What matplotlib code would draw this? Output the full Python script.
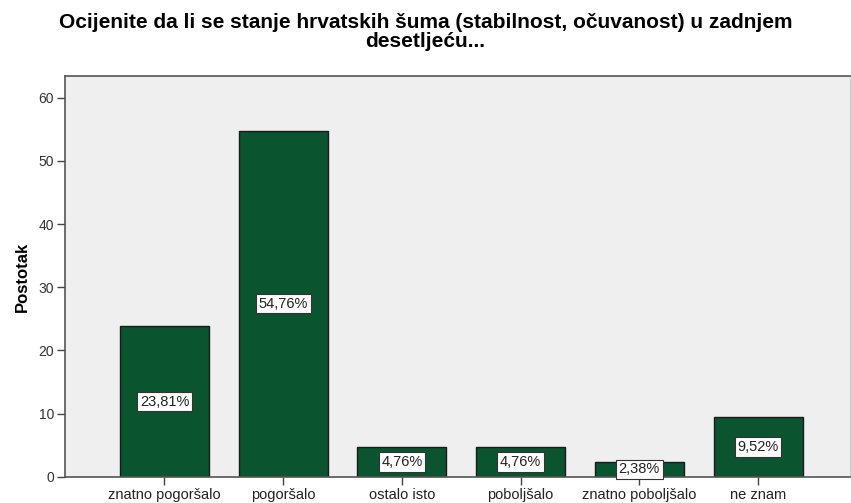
import numpy as np
import matplotlib
matplotlib.use('Agg')
import matplotlib.pyplot as plt

categories = ['znatno pogoršalo', 'pogoršalo', 'ostalo isto', 'poboljšalo', 'znatno poboljšalo', 'ne znam']
percents = [23.81, 54.76, 4.76, 4.76, 2.38, 9.52]
labels = ['23,81%', '54,76%', '4,76%', '4,76%', '2,38%', '9,52%']
yticks = [0, 10, 20, 30, 40, 50, 60]

plt.rcParams['font.family'] = ['Liberation Sans', 'DejaVu Sans']

fig = plt.figure(figsize=(8.51, 5.03), dpi=100)
ax = fig.add_axes([0.0764, 0.0517, 0.9225, 0.7972])
ax.set_facecolor('#efefef')

x = np.arange(len(categories))
ax.bar(x, percents, width=0.75, color='#0b5430', edgecolor='#1a1a1a', linewidth=1.0, zorder=2)

for xi, v, lab in zip(x, percents, labels):
	ax.text(xi, v / 2, lab, ha='center', va='center', fontsize=10.5, color='#222222', zorder=3,
		bbox=dict(boxstyle='square,pad=0.18', facecolor='white', edgecolor='#333333', linewidth=0.8))

ax.set_xlim(-0.838, 5.775)
ax.set_ylim(0, 63.4)
ax.set_xticks(x)
ax.set_xticklabels(categories, fontsize=10.5, color='#222222')
ax.set_yticks(yticks)
ax.set_yticklabels([str(t) for t in yticks], fontsize=10, color='#333333')
ax.tick_params(axis='both', direction='out', length=6, width=1, color='#444444', pad=2)

for side in ['left', 'top', 'bottom']:
	ax.spines[side].set_color('#555555')
	ax.spines[side].set_linewidth(1.2)
ax.spines['right'].set_color('#cccccc')

ax.set_ylabel('Postotak', fontsize=12, fontweight='bold', labelpad=6)

fig.suptitle('Ocijenite da li se stanje hrvatskih šuma (stabilnost, očuvanost) u zadnjem\ndesetljeću...',
	fontsize=15, fontweight='bold', x=0.5, y=0.975, va='top', linespacing=1.02)

plt.savefig('out.png', dpi=100)
